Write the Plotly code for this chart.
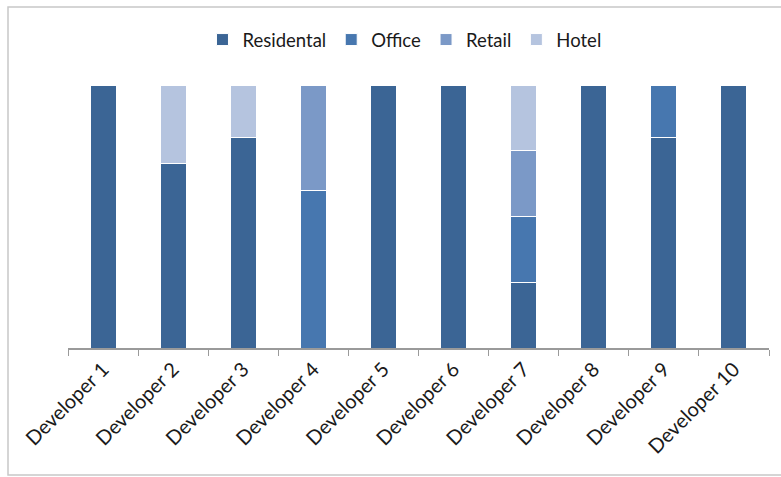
import plotly.graph_objects as go

developers = ["Developer 1", "Developer 2", "Developer 3", "Developer 4", "Developer 5",
              "Developer 6", "Developer 7", "Developer 8", "Developer 9", "Developer 10"]
residential = [100, 70, 80, 0, 100, 100, 25, 100, 80, 100]
office = [0, 0, 0, 60, 0, 0, 25, 0, 20, 0]
retail = [0, 0, 0, 40, 0, 0, 25, 0, 0, 0]
hotel = [0, 30, 20, 0, 0, 0, 25, 0, 0, 0]

series = [("Residental", residential, "#3b6595"),
          ("Office", office, "#4777af"),
          ("Retail", retail, "#7b99c7"),
          ("Hotel", hotel, "#b5c4df")]

fig = go.Figure()
for name, vals, col in series:
    fig.add_trace(go.Bar(x=developers, y=vals, name=name,
                         marker=dict(color=col, line=dict(color="white", width=1))))

fig.update_layout(
    barmode="stack", barnorm="percent",
    width=781, height=477,
    margin=dict(l=68, r=12, t=85, b=129),
    paper_bgcolor="white", plot_bgcolor="white",
    bargap=0.63,
    font=dict(family="Lato, Open Sans, sans-serif", size=16, color="#1a1a1a"),
    legend=dict(orientation="h", x=0.48, xanchor="center", y=1.171, yanchor="middle",
                font=dict(size=18.5), traceorder="normal", itemwidth=30),
    showlegend=True,
    xaxis=dict(showline=True, linecolor="#9a9a9a", linewidth=1.5,
               ticks="outside", ticklen=6, tickcolor="#9a9a9a", tickson="boundaries",
               tickangle=-45, tickfont=dict(size=20), showgrid=False),
    yaxis=dict(range=[0, 100], showticklabels=False, showgrid=False, zeroline=False,
               showline=False, ticks=""),
    shapes=[dict(type="rect", xref="paper", yref="paper",
                 x0=-60/701, x1=1.1, y0=-127/263, y1=341/263,
                 line=dict(color="#c8c8c8", width=1.5), fillcolor="rgba(0,0,0,0)")],
)

fig.write_html("out.html")
